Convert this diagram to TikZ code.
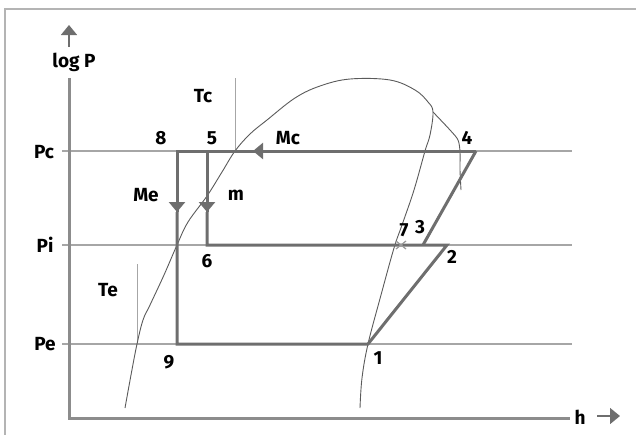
\documentclass[tikz,border=0pt]{standalone}
\usepackage{fontspec}
\setmainfont{Fira Sans}
\usetikzlibrary{arrows.meta,decorations.markings}
\definecolor{cyc}{HTML}{6E6E6E}
\definecolor{axc}{HTML}{8C8C8C}
\definecolor{thinc}{HTML}{A6A6A6}
\definecolor{crossc}{HTML}{9A9A9A}
\definecolor{curvc}{HTML}{5A5A5A}
\definecolor{framec}{HTML}{B4B4B4}
\tikzset{
  lbl/.style={font=\fontsize{19}{19}\selectfont\bfseries, text=black, inner sep=0pt},
  cycle/.style={draw=cyc, line width=3pt},
  axisline/.style={draw=axc, line width=3pt},
  guide/.style={draw=thinc, line width=1.3pt},
  satcurve/.style={draw=curvc, line width=0.9pt},
  tip/.style={-{Triangle[width=16pt,length=10pt]}, draw=cyc, fill=cyc, line width=3pt},
  axtip/.style={-{Triangle[width=16pt,length=10pt]}, draw=cyc, fill=cyc, line width=1.5pt},
}
\begin{document}
\begin{tikzpicture}[x=1pt,y=-1pt]
\useasboundingbox (0,0) rectangle (636,434);
% frame
\draw[framec, line width=1.5pt] (5,440) -- (5,9) -- (640,9);
% coordinates
\coordinate (c8) at (177,151);
\coordinate (c5) at (207,151);
\coordinate (c4) at (476,151);
\coordinate (c6) at (207,245);
\coordinate (c2) at (447,245);
\coordinate (c3) at (423,245);
\coordinate (c9) at (177,344);
\coordinate (c1) at (368,344);
\coordinate (mc) at (253,151);
\coordinate (me) at (177,212);
\coordinate (mm) at (207,212);
% guide lines
\coordinate (pcL) at (62,151); \coordinate (pcR) at (572,151);
\coordinate (piL) at (62,245); \coordinate (piR) at (572,245);
\coordinate (peL) at (62,344); \coordinate (peR) at (572,344);
\draw[guide] (pcL) -- (pcR);
\draw[guide] (piL) -- (piR);
\draw[guide] (peL) -- (peR);
\coordinate (tcT) at (235,78); \coordinate (tcB) at (235,151);
\coordinate (teT) at (137,264); \coordinate (teB) at (137,344);
\draw[thinc, line width=1pt] (tcT) -- (tcB);
\draw[thinc, line width=1pt] (teT) -- (teB);
% axes
\coordinate (o) at (69,418);
\coordinate (ytop) at (69,78);
\coordinate (xend) at (570,418);
\draw[axisline] (ytop) -- (o) -- (xend);
\coordinate (ya) at (69,47); \coordinate (yb) at (69,25);
\draw[axtip] (ya) -- (yb);
\coordinate (xa) at (597,416); \coordinate (xb) at (620,416);
\draw[axtip] (xa) -- (xb);
% saturation dome
\draw[satcurve] plot[smooth, tension=0.6] coordinates {
 (125,408) (131,375) (137,344) (143,320) (150,305) (164,275) (177,245)
 (188,222) (207,196) (222,172) (235,151) (250,134) (267,120) (295,98)
 (320,86) (350,79) (390,80) (415,90) (428,102) (433,112) (430,135)
 (425,151) (414,190) (402,225) (394,248) (381,295) (368,344) (362,378) (360,408)};
% isotherm
\draw[satcurve] plot[smooth, tension=0.5] coordinates {
 (433,112) (450,130) (458,140) (460,152) (460,170) (461,190)};
% cycle
\draw[cycle] (c4) -- (mc);
\draw[tip] (c4) -- (mc);
\draw[cycle] (mc) -- (c8) -- (me);
\draw[tip] (c8) -- (me);
\draw[cycle] (me) -- (c9) -- (c1) -- (c2) -- (c6) -- (mm);
\draw[cycle] (c5) -- (mm);
\draw[tip] (c5) -- (mm);
\draw[cycle] (c3) -- (c4);
% cross point 7
\coordinate (xa1) at (396,241); \coordinate (xa2) at (406,249);
\coordinate (xb1) at (396,249); \coordinate (xb2) at (406,241);
\draw[crossc, line width=1.2pt] (xa1) -- (xa2);
\draw[crossc, line width=1.2pt] (xb1) -- (xb2);
% labels
\node[lbl] (logp) at (74,62) {log P};
\node[lbl] (pc) at (44,152) {Pc};
\node[lbl] (pi) at (45,245) {Pi};
\node[lbl] (pe) at (45,344) {Pe};
\node[lbl] (tc) at (203,96) {Tc};
\node[lbl] (te) at (108,290) {Te};
\node[lbl] (l8) at (161,138) {8};
\node[lbl] (l5) at (212,138) {5};
\node[lbl] (lmc) at (288,138) {Mc};
\node[lbl] (l4) at (467,138) {4};
\node[lbl] (lme) at (146,195) {Me};
\node[lbl] (lm) at (236,195) {m};
\node[lbl] (l7) at (404,230) {7};
\node[lbl] (l3) at (420,227) {3};
\node[lbl] (l2) at (452,257) {2};
\node[lbl] (l6) at (207,261) {6};
\node[lbl] (l9) at (169,362) {9};
\node[lbl] (l1) at (378,358) {1};
\node[lbl] (lh) at (580,417) {h};
\end{tikzpicture}
\end{document}
